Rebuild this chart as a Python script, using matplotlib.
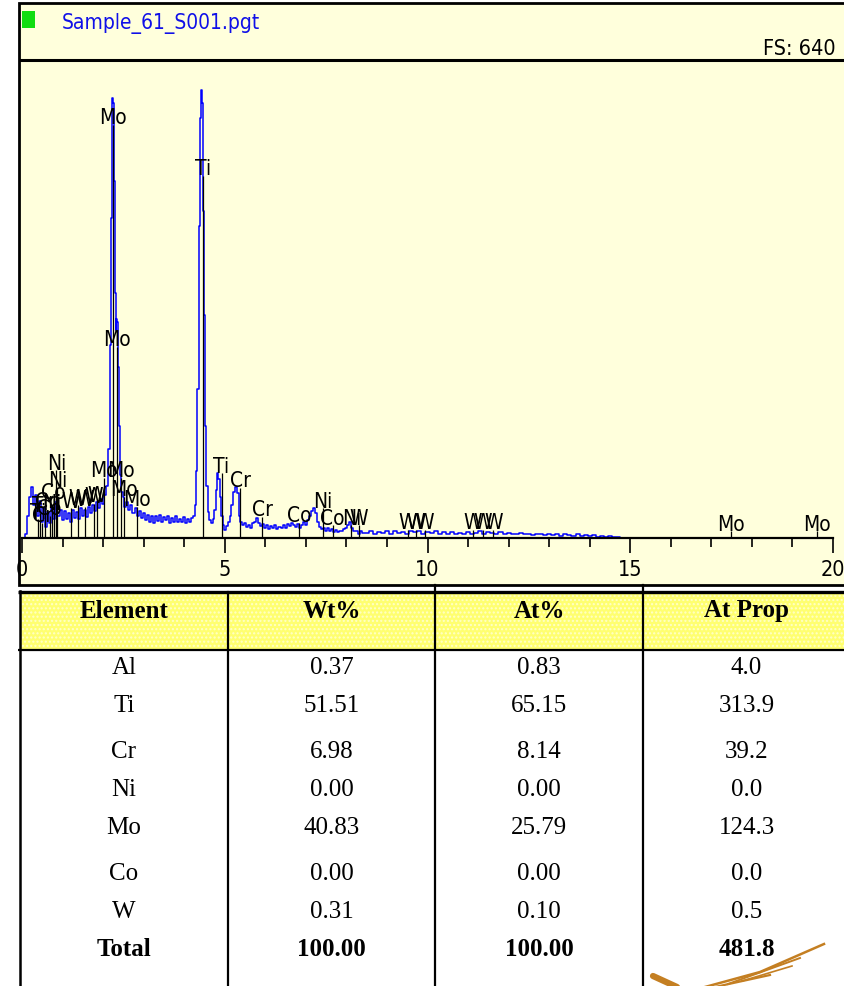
import matplotlib
matplotlib.use("Agg")
import matplotlib.pyplot as plt
from matplotlib.patches import Rectangle
from matplotlib.ticker import MultipleLocator

plt.rcParams['font.family'] = ['Liberation Sans Narrow', 'DejaVu Sans']
plt.rcParams['font.stretch'] = 'condensed'

energy_kev = [
    0.00, 0.05, 0.10, 0.15, 0.20, 0.25, 0.30, 0.35, 0.40, 0.45,
    0.50, 0.55, 0.60, 0.65, 0.70, 0.75, 0.80, 0.85, 0.90, 0.95,
    1.00, 1.05, 1.10, 1.15, 1.20, 1.25, 1.30, 1.35, 1.40, 1.45,
    1.50, 1.55, 1.60, 1.65, 1.70, 1.75, 1.80, 1.85, 1.90, 1.95,
    2.00, 2.05, 2.10, 2.15, 2.18, 2.20, 2.22, 2.24, 2.26, 2.28,
    2.30, 2.32, 2.34, 2.36, 2.38, 2.40, 2.43, 2.46, 2.50, 2.55,
    2.60, 2.65, 2.70, 2.75, 2.80, 2.85, 2.90, 2.95, 3.00, 3.05,
    3.10, 3.15, 3.20, 3.25, 3.30, 3.35, 3.40, 3.45, 3.50, 3.55,
    3.60, 3.65, 3.70, 3.75, 3.80, 3.85, 3.90, 3.95, 4.00, 4.05,
    4.10, 4.15, 4.20, 4.25, 4.28, 4.31, 4.34, 4.37, 4.40, 4.43,
    4.46, 4.48, 4.50, 4.53, 4.56, 4.60, 4.64, 4.68, 4.72, 4.76,
    4.80, 4.83, 4.86, 4.89, 4.93, 4.97, 5.01, 5.05, 5.10, 5.14,
    5.18, 5.23, 5.28, 5.32, 5.36, 5.40, 5.45, 5.50, 5.55, 5.60,
    5.65, 5.70, 5.75, 5.80, 5.85, 5.90, 5.95, 6.00, 6.05, 6.10,
    6.15, 6.20, 6.25, 6.30, 6.35, 6.40, 6.45, 6.50, 6.55, 6.60,
    6.65, 6.70, 6.75, 6.80, 6.85, 6.90, 6.95, 7.00, 7.05, 7.10,
    7.15, 7.20, 7.25, 7.30, 7.35, 7.40, 7.45, 7.50, 7.55, 7.60,
    7.65, 7.70, 7.75, 7.80, 7.85, 7.90, 7.95, 8.00, 8.05, 8.10,
    8.15, 8.20, 8.25, 8.30, 8.35, 8.40, 8.50, 8.60, 8.70, 8.80,
    8.90, 9.00, 9.10, 9.20, 9.30, 9.40, 9.50, 9.60, 9.70, 9.80,
    9.90, 10.0, 10.1, 10.2, 10.3, 10.4, 10.5, 10.6, 10.7, 10.8,
    10.9, 11.0, 11.1, 11.2, 11.3, 11.4, 11.5, 11.6, 11.7, 11.8,
    11.9, 12.0, 12.1, 12.2, 12.3, 12.4, 12.5, 12.6, 12.7, 12.8,
    12.9, 13.0, 13.1, 13.2, 13.3, 13.4, 13.5, 13.6, 13.7, 13.8,
    13.9, 14.0, 14.1, 14.2, 14.3, 14.4, 14.5, 14.6, 14.7, 14.8,
    15.0, 20.0,
]
counts = [
    0, 0, 5, 30, 55, 68, 45, 58, 30, 50,
    22, 40, 15, 35, 20, 42, 25, 48, 30, 38,
    24, 36, 26, 34, 22, 38, 27, 35, 25, 40,
    30, 37, 28, 42, 33, 45, 36, 48, 40, 52,
    46, 58, 70, 120, 260, 430, 570, 592, 585, 480,
    330, 280, 295, 290, 230, 150, 85, 62, 55, 42,
    48, 38, 44, 33, 40, 30, 36, 27, 33, 24,
    31, 22, 30, 20, 29, 23, 31, 21, 28, 24,
    30, 20, 27, 22, 29, 21, 26, 22, 28, 20,
    25, 21, 27, 30, 45, 90, 200, 420, 565, 602,
    585, 440, 300, 150, 70, 35, 24, 20, 25, 38,
    65, 87, 80, 55, 30, 18, 11, 16, 22, 30,
    44, 62, 69, 60, 30, 22, 18, 20, 15, 18,
    14, 20, 22, 27, 20, 16, 19, 13, 17, 12,
    16, 13, 17, 12, 15, 13, 18, 14, 19, 16,
    20, 18, 15, 19, 14, 18, 22, 18, 24, 30,
    36, 40, 34, 22, 15, 12, 14, 10, 13, 9,
    12, 8, 11, 8, 10, 9, 12, 14, 18, 22,
    14, 9, 10, 6, 9, 7, 7, 9, 6, 8,
    7, 10, 6, 9, 7, 8, 6, 10, 8, 9,
    6, 8, 7, 9, 6, 8, 6, 8, 5, 7,
    6, 8, 6, 7, 9, 6, 8, 7, 6, 8,
    5, 7, 6, 5, 7, 5, 6, 4, 6, 5,
    4, 6, 4, 5, 3, 5, 4, 3, 5, 3,
    4, 3, 4, 2, 3, 2, 3, 2, 2, 0,
    0, 0,
]

# KLM markers: label, energy (keV), marker height (counts)
marker_labels = [
    'Ti', 'Ti', 'Cr', 'Cr', 'Co', 'Ni', 'Co', 'Ni', 'Ni',
    'W', 'W', 'W', 'W', 'W',
    'Mo', 'Mo', 'Mo', 'Mo', 'Mo', 'Mo',
    'Ti', 'Ti', 'Cr', 'Cr', 'Co', 'Ni', 'Co', 'Ni', 'W',
    'W', 'W', 'W', 'W', 'W', 'W', 'Mo', 'Mo',
]
marker_kev = [
    0.40, 0.45, 0.50, 0.57, 0.68, 0.74, 0.78, 0.85, 0.87,
    1.20, 1.38, 1.55, 1.78, 1.84,
    2.02, 2.24, 2.34, 2.45, 2.52, 2.83,
    4.46, 4.92, 5.38, 5.92, 6.84, 7.42, 7.66, 8.12, 8.30,
    9.52, 9.72, 9.94, 11.12, 11.37, 11.62, 17.48, 19.60,
]
marker_height = [
    25, 34, 20, 40, 30, 36, 52, 91, 67,
    40, 44, 42, 46, 48,
    81, 555, 257, 81, 55, 42,
    487, 87, 67, 28, 20, 40, 17, 17, 17,
    11, 11, 11, 11, 11, 11, 9, 9,
]

# quantitative results table
elements = ['Al', 'Ti', 'Cr', 'Ni', 'Mo', 'Co', 'W']
wt_pct = [0.37, 51.51, 6.98, 0.00, 40.83, 0.00, 0.31]
at_pct = [0.83, 65.15, 8.14, 0.00, 25.79, 0.00, 0.10]
at_prop = [4.0, 313.9, 39.2, 0.0, 124.3, 0.0, 0.5]
totals = [100.00, 100.00, 481.8]
columns = ['Element', 'Wt%', 'At%', 'At Prop']

W, H = 844, 986
fig = plt.figure(figsize=(W / 100, H / 100), dpi=100)
fig.patch.set_facecolor('white')

# background canvas in pixel units
bg = fig.add_axes([0, 0, 1, 1])
bg.set_xlim(0, W)
bg.set_ylim(H, 0)
bg.axis('off')

bg.add_patch(Rectangle((19, 3), 840, 582, facecolor='#FFFFDC',
                       edgecolor='black', lw=2))
bg.plot([19, W], [60, 60], color='black', lw=2.2, solid_capstyle='butt')
bg.add_patch(Rectangle((22, 11), 13, 17, facecolor='#11DD11', edgecolor='none'))
bg.text(62, 29, 'Sample_61_S001.pgt', color='#1010E8', fontsize=15,
        ha='left', va='baseline')
bg.text(836, 55, 'FS: 640', color='black', fontsize=15.5, ha='right',
        va='baseline')

# spectrum
ax = fig.add_axes([22 / W, (H - 538) / H, 811 / W, 476 / H])
ax.patch.set_visible(False)
ax.set_xlim(0, 20)
ax.set_ylim(0, 640)
for s in ['top', 'right', 'left']:
    ax.spines[s].set_visible(False)
ax.spines['bottom'].set_linewidth(1.6)
ax.spines['bottom'].set_zorder(5)
ax.set_yticks([])
ax.xaxis.set_major_locator(MultipleLocator(5))
ax.xaxis.set_minor_locator(MultipleLocator(1))
ax.tick_params(axis='x', which='major', direction='out', length=10.8,
               width=1.2, pad=5, labelsize=15.5)
ax.tick_params(axis='x', which='minor', direction='out', length=6.5, width=1.2)

ax.plot(energy_kev, counts, color='#0000FF', lw=1.1, drawstyle='steps-mid',
        zorder=2)
ax.vlines(marker_kev, 0, marker_height, colors='black', lw=0.9, zorder=3)
for lab, e, h in zip(marker_labels, marker_kev, marker_height):
    ax.text(e, h + 1, lab, ha='center', va='baseline', fontsize=15,
            color='black', zorder=4)

# table
serif = ['Liberation Serif', 'DejaVu Serif']
col_x = [20, 228, 435, 643, 850]
bg.add_patch(Rectangle((20, 592), 830, 58, facecolor='#FFFF70',
                       edgecolor='#FFFFC8', hatch='....', lw=0))
bg.plot([18, W], [592, 592], color='black', lw=2.4, solid_capstyle='butt')
bg.plot([18, W], [650, 650], color='black', lw=1.6, solid_capstyle='butt')
bg.plot([col_x[0]] * 2, [591, H], color='black', lw=1.8)
for x in col_x[1:2]:
    bg.plot([x, x], [592, H], color='black', lw=1.6)
for x in col_x[2:4]:
    bg.plot([x, x], [585, H], color='black', lw=1.6)

centers = [(col_x[i] + col_x[i + 1]) / 2 for i in range(4)]
for cx, name in zip(centers, columns):
    bg.text(cx, 611, name, family=serif, fontweight='bold', fontsize=18,
            stretch='normal', ha='center', va='center')

row_y = [668, 706, 752, 790, 828, 874, 912]
for y, el, w, a, p in zip(row_y, elements, wt_pct, at_pct, at_prop):
    cells = [el, f'{w:.2f}', f'{a:.2f}', f'{p:.1f}']
    for cx, txt in zip(centers, cells):
        bg.text(cx, y, txt, family=serif, fontsize=18, stretch='normal',
                ha='center', va='center')

total_cells = ['Total', f'{totals[0]:.2f}', f'{totals[1]:.2f}', f'{totals[2]:.1f}']
for cx, txt in zip(centers, total_cells):
    bg.text(cx, 950, txt, family=serif, fontweight='bold', fontsize=18,
            stretch='normal', ha='center', va='center')

# pen scribble in the corner
ink = '#C47F22'
bg.plot([653, 677], [976, 987], color=ink, lw=4.5, solid_capstyle='round')
bg.plot([705, 760, 824], [987, 972, 944], color=ink, lw=1.8)
bg.plot([728, 800], [984, 958], color=ink, lw=1.4)
bg.plot([742, 792], [981, 966], color=ink, lw=1.2)
bg.plot([715, 770], [987, 975], color=ink, lw=1.6)

fig.savefig('out.png', dpi=100, facecolor='white')
